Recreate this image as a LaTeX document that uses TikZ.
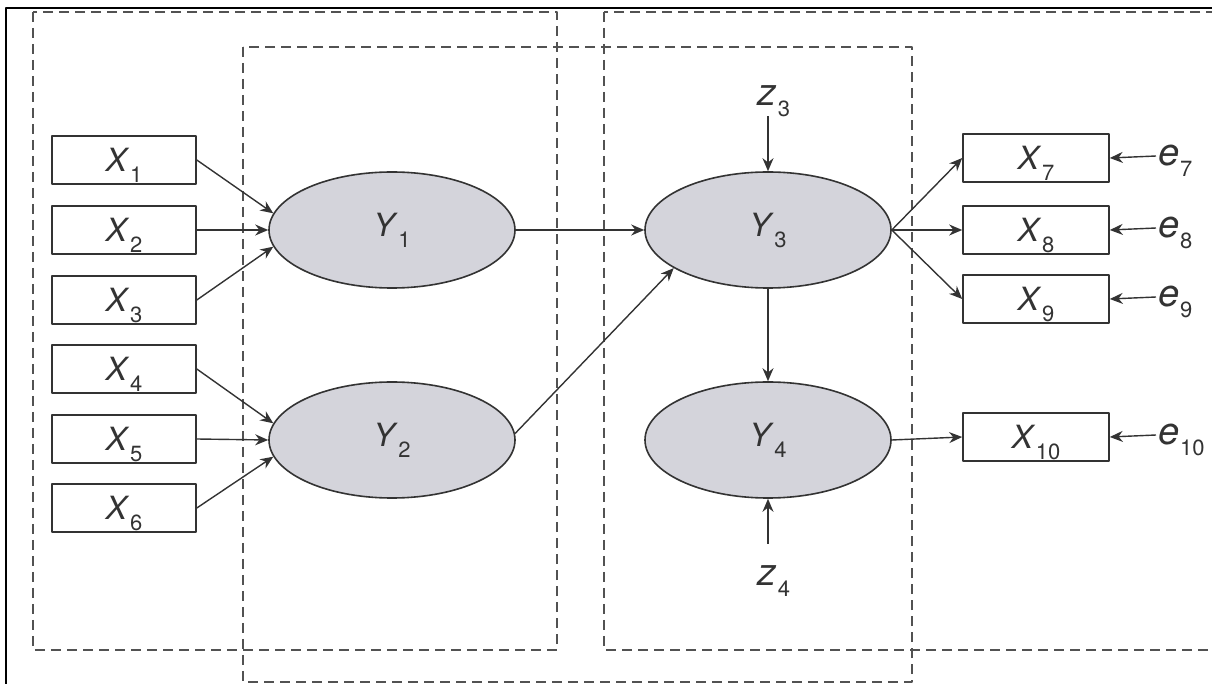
\documentclass[tikz,border=0pt]{standalone}
\usepackage{fontspec}
\setmainfont{TeX Gyre Heros}
\usetikzlibrary{arrows.meta,shapes.geometric}
\definecolor{ink}{rgb}{0.2,0.2,0.2}
\definecolor{latent}{rgb}{0.83,0.83,0.86}
\newcommand{\vname}[2]{\textit{#1}\hspace{0.3pt}\raisebox{-5.5pt}[0pt][0pt]{\fontsize{11}{11}\selectfont #2}}

\begin{document}
\begin{tikzpicture}[x=0.5pt,y=-0.5pt,>={Stealth[length=6.5pt,width=5.5pt]},line join=round,
  obs/.style={draw=ink,line width=0.8pt,minimum width=72pt,minimum height=24pt,inner sep=0pt,
    font=\fontsize{16}{16}\selectfont,text=ink},
  lat/.style={ellipse,draw=ink,fill=latent,line width=0.8pt,minimum width=123pt,minimum height=58pt,
    inner sep=0pt,text depth=5pt,font=\fontsize{16}{16}\selectfont,text=ink},
  err/.style={inner sep=1pt,font=\fontsize{19}{19}\selectfont,text=ink},
  grp/.style={draw=ink!85,line width=0.7pt,dash pattern=on 5pt off 3pt},
  link/.style={->,draw=ink,line width=0.7pt}]
  \useasboundingbox (0,0) rectangle (1212,684);
  \clip (0,0) rectangle (1212,684);
  \draw[line width=1pt] (1212,8) -- (6,8) -- (6,684);
  \draw[grp] (33,12) rectangle (557,650);
  \draw[grp] (243,47) rectangle (912,682);
  \draw[grp] (604,12) rectangle (1240,650);

  \node[obs] (x1) at (124,160) {\vname{X}{1}};
  \node[obs] (x2) at (124,230) {\vname{X}{2}};
  \node[obs] (x3) at (124,300) {\vname{X}{3}};
  \node[obs] (x4) at (124,369) {\vname{X}{4}};
  \node[obs] (x5) at (124,439) {\vname{X}{5}};
  \node[obs] (x6) at (124,508) {\vname{X}{6}};

  \node[lat] (Y1) at (392,230) {\vname{Y}{1}};
  \node[lat] (Y2) at (392,440) {\vname{Y}{2}};
  \node[lat] (Y3) at (768,230) {\vname{Y}{3}};
  \node[lat] (Y4) at (768,440) {\vname{Y}{4}};

  \node[obs,minimum width=73pt] (x7) at (1036,158) {\vname{X}{7}};
  \node[obs,minimum width=73pt] (x8) at (1036,230) {\vname{X}{8}};
  \node[obs,minimum width=73pt] (x9) at (1036,299) {\vname{X}{9}};
  \node[obs,minimum width=73pt] (x10) at (1036,437) {\vname{X}{10}};

  \node[err,anchor=west] (e7) at (1156,156) {\vname{e}{7}};
  \node[err,anchor=west] (e8) at (1156,228) {\vname{e}{8}};
  \node[err,anchor=west] (e9) at (1156,297) {\vname{e}{9}};
  \node[err,anchor=west] (e10) at (1156,435) {\vname{e}{10}};
  \node[err] (z3) at (774,96) {\vname{z}{3}};
  \node[err] (z4) at (774,576) {\vname{z}{4}};

  \draw[link] (x1.east) -- (Y1.172);
  \draw[link] (x2.east) -- (Y1.west);
  \draw[link] (x3.east) -- (Y1.188);
  \draw[link] (x4.east) -- (Y2.172);
  \draw[link] (x5.east) -- (Y2.west);
  \draw[link] (x6.east) -- (Y2.188);
  \draw[link] (Y1.east) -- (Y3.west);
  \draw[link] (Y2.3) -- (Y3.202);
  \draw[link] (Y3.east) -- (x7.west);
  \draw[link] (Y3.east) -- (x8.west);
  \draw[link] (Y3.east) -- (x9.west);
  \draw[link] (Y3.south) -- (Y4.north);
  \draw[link] (Y4.east) -- (x10.west);
  \draw[link,shorten <=4pt] (z3.south -| Y3.north) -- (Y3.north);
  \draw[link,shorten <=10pt] (z4.north -| Y4.south) -- (Y4.south);
  \draw[link] (e7.west) -- (x7.east);
  \draw[link] (e8.west) -- (x8.east);
  \draw[link] (e9.west) -- (x9.east);
  \draw[link] (e10.west) -- (x10.east);
\end{tikzpicture}
\end{document}
